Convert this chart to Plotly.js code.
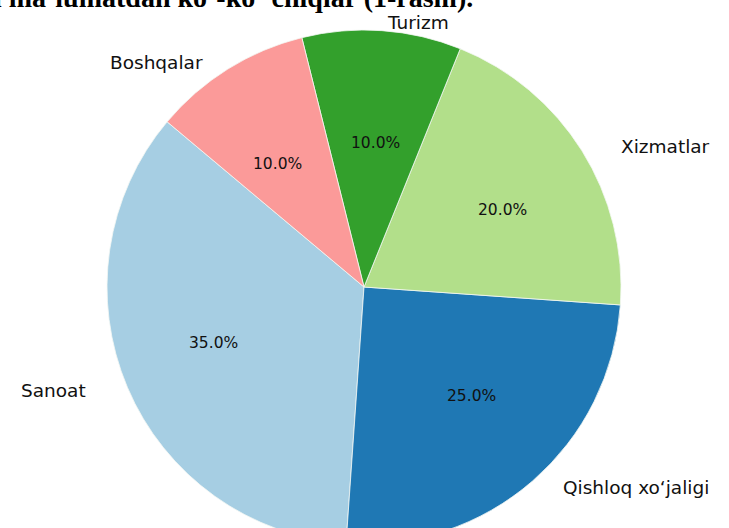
<!DOCTYPE html>
<html>
<head>
<meta charset="utf-8">
<script src="https://cdn.plot.ly/plotly-3.0.1.min.js"></script>
<style>
html,body{margin:0;padding:0;overflow:hidden;background:#ffffff;}
#chart{width:729px;height:580px;}
</style>
</head>
<body>
<div id="chart"></div>
<script>
// ---- data ----
const categories = ["Sanoat", "Qishloq xo‘jaligi", "Xizmatlar", "Turizm", "Boshqalar"];
const shares = [35, 25, 20, 10, 10];
const sliceColors = ["#a6cee3", "#1f78b4", "#b2df8a", "#33a02c", "#fb9a99"];
const caption = "jadval ma’lumatdan ko‘-ko‘ chiqlar (1-rasm).";
const startAngle = 140; // degrees, counter-clockwise from 3 o'clock

// ---- geometry of the figure (pixels) ----
const W = 729, H = 580;
const cx = 364, cy = 287, R = 257;
const labelRx = 273 * 1.1, labelRy = 241 * 1.1;
const pctRx = 273 * 0.6, pctRy = 241 * 0.6;

const total = shares.reduce((a, b) => a + b, 0);
const annotations = [];
let acc = 0;
shares.forEach((v, i) => {
  const mid = (startAngle + (acc + v / 2) / total * 360) * Math.PI / 180;
  acc += v;
  const c = Math.cos(mid), s = Math.sin(mid);
  annotations.push({
    xref: 'paper', yref: 'paper',
    x: (cx + pctRx * c) / W, y: 1 - (cy - pctRy * s) / H,
    xanchor: 'center', yanchor: 'middle', showarrow: false,
    text: (v / total * 100).toFixed(1) + '%',
    font: {family: 'DejaVu Sans', size: 15.5, color: '#111111'}
  });
  annotations.push({
    xref: 'paper', yref: 'paper',
    x: (cx + labelRx * c) / W, y: 1 - (cy - labelRy * s) / H,
    xanchor: c >= 0 ? 'left' : 'right', yanchor: 'middle', showarrow: false,
    text: categories[i],
    font: {family: 'DejaVu Sans', size: 18.5, color: '#111111'}
  });
});

// partially visible caption at the very top
annotations.push({
  xref: 'paper', yref: 'paper',
  x: 474 / W, y: 1 - 14 / H,
  xanchor: 'right', yanchor: 'bottom', showarrow: false,
  borderpad: 0,
  text: '<b>' + caption + '</b>',
  font: {family: 'Liberation Serif', size: 28, color: '#000000'}
});

// Plotly places the end of the first counter-clockwise slice at (90 - rotation)
const firstSliceDeg = shares[0] / total * 360;
const trace = {
  type: 'pie',
  labels: categories,
  values: shares,
  sort: false,
  direction: 'counterclockwise',
  rotation: 90 - (startAngle + firstSliceDeg),
  marker: {colors: sliceColors, line: {color: '#f4f8f4', width: 0.8}},
  textinfo: 'none',
  hoverinfo: 'label+percent',
  showlegend: false,
  domain: {
    x: [(cx - R) / W, (cx + R) / W],
    y: [(H - cy - R) / H, (H - cy + R) / H]
  }
};

const layout = {
  width: W, height: H,
  margin: {l: 0, r: 0, t: 0, b: 0},
  paper_bgcolor: '#ffffff',
  plot_bgcolor: '#ffffff',
  showlegend: false,
  annotations: annotations
};

Plotly.newPlot('chart', [trace], layout, {displayModeBar: false, staticPlot: true});
</script>
</body>
</html>
